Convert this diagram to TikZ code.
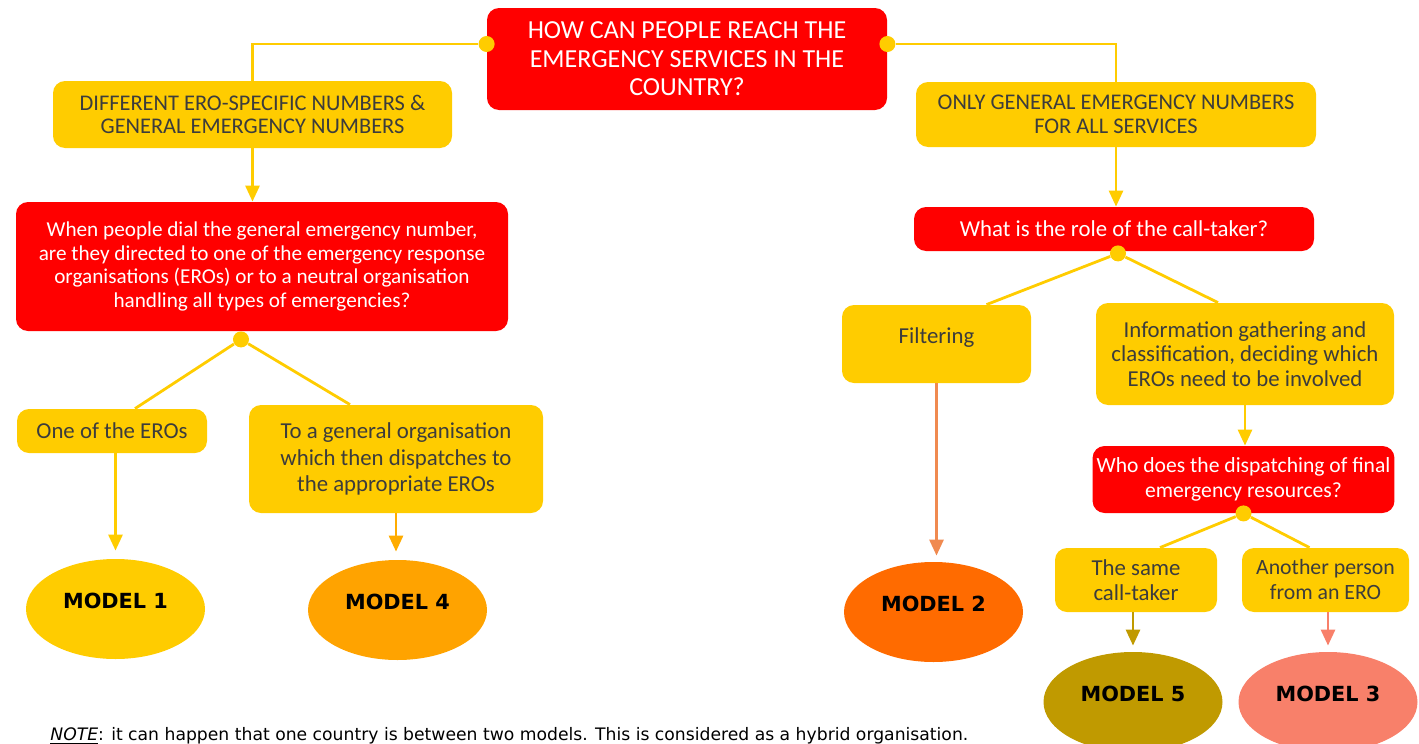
\documentclass[tikz,border=0pt]{standalone}
\usepackage{fontspec}
\setmainfont{Carlito}
\newfontfamily\modelfont{DejaVu Sans}
\newfontfamily\notefont{DejaVu Sans}
\usetikzlibrary{arrows.meta}
\usetikzlibrary{positioning}
\usetikzlibrary{shapes.geometric}
\definecolor{qred}{HTML}{FF0000}
\definecolor{ayellow}{HTML}{FFCC00}
\definecolor{atext}{HTML}{3C3C3C}
\definecolor{mone}{HTML}{FFCC00}
\definecolor{mfour}{HTML}{FFA300}
\definecolor{mtwo}{HTML}{FF6B00}
\definecolor{mfive}{HTML}{C09A00}
\definecolor{mthree}{HTML}{F8806A}
\definecolor{ftwo}{HTML}{F08A50}
\tikzset {
  box/.style = {
    rounded corners = 6pt,
    align = center,
    inner sep = 2pt
  },
  % question asked at a branching
  question/.style = {
    box,
    fill = qred,
    text = white,
    font = \fontsize{11.4}{12.5}\selectfont
  },
  % possible answer
  answer/.style = {
    box,
    fill = ayellow,
    text = atext,
    font = \fontsize{11.4}{12.5}\selectfont
  },
  model/.style = {
    ellipse,
    minimum width = 89.5pt,
    minimum height = 50pt,
    inner sep = 0,
    font = \modelfont\bfseries\fontsize{10.4}{12}\selectfont
  },
  dot/.style = {
    circle,
    fill = ayellow,
    minimum size = 8pt,
    inner sep = 0
  },
  link/.style = {
    draw = ayellow,
    line width = 1.4pt
  },
  flow/.style = {
    link,
    -{Triangle[width=7pt,length=8pt]}
  }
}
\begin{document}
\begin{tikzpicture}[x=0.5pt,y=-0.5pt]
    \useasboundingbox (0,0) rectangle (1419,744);

    \node[question, minimum width=200pt, minimum height=51pt,
      font=\fontsize{13}{14.2}\selectfont] (top) at (687,59)
      {HOW CAN PEOPLE REACH THE\\EMERGENCY SERVICES IN THE\\COUNTRY?};
    \node[dot] (dotL) at ([yshift=7.5pt]top.west) {};
    \node[dot] (dotR) at ([yshift=7.5pt]top.east) {};

    % left branch
    \node[answer, minimum width=199.5pt, minimum height=33.5pt,
      font=\fontsize{11.2}{11.8}\selectfont] (numL) at (252.5,114.5)
      {DIFFERENT ERO-SPECIFIC NUMBERS \&\\GENERAL EMERGENCY NUMBERS};
    \node[question, minimum width=246pt, minimum height=64.5pt,
      font=\fontsize{10.6}{11.8}\selectfont] (redL) at (262,266.5)
      {When people dial the general emergency number,\\are they directed to one of the emergency response\\organisations (EROs) or to a neutral organisation\\handling all types of emergencies?};
    \node[dot] (dotA) at ([xshift=-10.5pt,yshift=-4pt]redL.south) {};
    \node[answer, minimum width=95pt, minimum height=22pt] (oneERO) at (112,431) {One of the EROs};
    \node[answer, minimum width=147pt, minimum height=54pt,
      font=\fontsize{11.4}{13.3}\selectfont] (genOrg) at (396,459)
      {To a general organisation\\which then dispatches to\\the appropriate EROs};
    \node[model, fill=mone] (model1) at (115.5,609) {\raisebox{8pt}{MODEL 1}};
    \node[model, fill=mfour] (model4) at (397.5,610) {\raisebox{8pt}{MODEL 4}};

    % right branch
    \node[answer, minimum width=200pt, minimum height=32.5pt,
      font=\fontsize{11.2}{11.8}\selectfont] (numR) at (1116,114.5)
      {ONLY GENERAL EMERGENCY NUMBERS\\FOR ALL SERVICES};
    \node[question, minimum width=200pt, minimum height=22pt] (roleQ) at (1114,229)
      {What is the role of the call-taker?};
    \node[dot] (dotB) at ([xshift=2pt,yshift=-1pt]roleQ.south) {};
    \node[answer, minimum width=94.5pt, minimum height=39pt] (filter) at (936.5,344)
      {\raisebox{8pt}{Filtering}};
    \node[answer, minimum width=149pt, minimum height=51pt,
      font=\fontsize{11.4}{12.2}\selectfont] (info) at (1245,354)
      {Information gathering and\\classification, deciding which\\EROs need to be involved};
    \node[question, minimum width=149.5pt, minimum height=33.5pt,
      font=\fontsize{10.8}{12.5}\selectfont] (whoQ) at (1243.5,479.5)
      {Who does the dispatching of final\\emergency resources?};
    \node[dot] (dotC) at (whoQ.south) {};
    \node[answer, minimum width=81pt, minimum height=32pt] (same) at (1136,580)
      {The same\\call-taker};
    \node[answer, minimum width=83.5pt, minimum height=32pt,
      font=\fontsize{10.9}{12.5}\selectfont] (another) at (1325.5,580)
      {Another person\\from an ERO};
    \node[model, fill=mtwo] (model2) at (933.5,612) {\raisebox{8pt}{MODEL 2}};
    \node[model, fill=mfive] (model5) at (1133,702) {\raisebox{8pt}{MODEL 5}};
    \node[model, fill=mthree] (model3) at (1328,702) {\raisebox{8pt}{MODEL 3}};

    \node[anchor=base west, inner sep=0, font=\notefont\fontsize{8.6}{10}\selectfont] (note) at (50,740)
      {\textit{\underline{NOTE}}: it can happen that one country is between two models. This is considered as a hybrid organisation.};

    \draw[link] (dotL) -| (numL);
    \draw[link] (dotR) -| (numR);
    \draw[flow] (numL.south) -- (numL.south |- redL.north);
    \draw[flow] (numR.south) -- (numR.south |- roleQ.north);
    \draw[link] (dotA) -- ([xshift=11.5pt]oneERO.north);
    \draw[link] (dotA) -- ([xshift=-23pt]genOrg.north);
    \draw[link] (dotB) -- ([xshift=25pt]filter.north);
    \draw[link] (dotB) -- ([xshift=-13.5pt]info.north);
    \draw[link] (dotC) -- ([xshift=12pt]same.north);
    \draw[link] (dotC) -- ([xshift=-8pt]another.north);
    \draw[flow] (info.south) -- (info.south |- whoQ.north);
    \draw[flow, shorten >=4pt] (oneERO.south -| model1.north) -- (model1.north);
    \draw[flow, draw=mfour!90!yellow, shorten >=4pt] (genOrg.south) -- (genOrg.south |- model4.north);
    \draw[flow, draw=ftwo, shorten >=3pt] (filter.south) -- (filter.south |- model2.north);
    \draw[flow, draw=mfive, shorten >=3pt] (same.south -| model5.north) -- (model5.north);
    \draw[flow, draw=mthree, shorten >=3pt] (another.south -| model3.north) -- (model3.north);
  \end{tikzpicture}
\end{document}
